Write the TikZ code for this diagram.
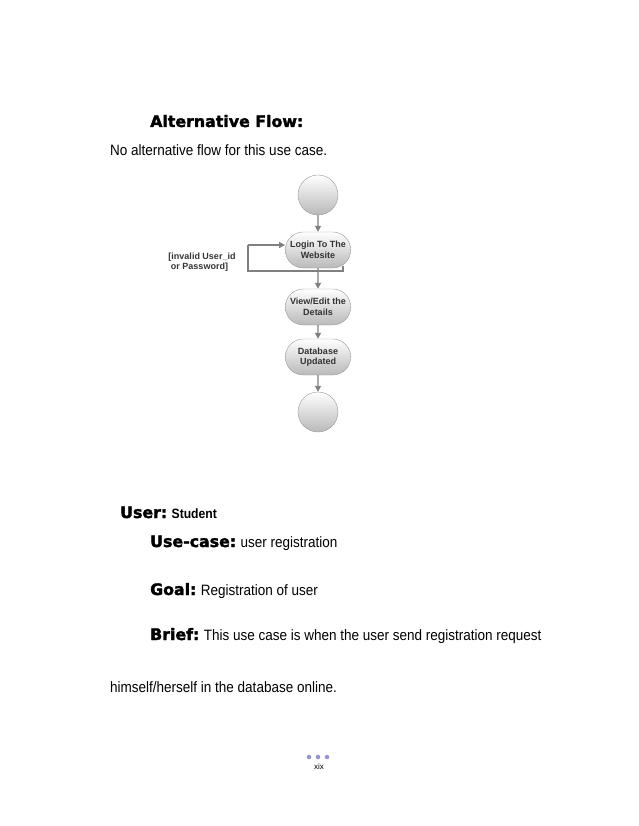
\documentclass[tikz,border=0pt]{standalone}
\usepackage{fontspec}
\setmainfont{Liberation Sans}
\newfontfamily\narrow[FakeStretch=0.9]{Liberation Sans}
\newfontfamily\heavy[BoldFeatures={FakeBold=2}]{DejaVu Sans}
\usetikzlibrary{arrows.meta,shapes.misc}
\begin{document}
\begin{tikzpicture}[x=1pt,y=-1pt,
  act/.style={draw=gray!80,rounded rectangle,minimum width=72pt,minimum height=36pt,top color=white,bottom color=gray!55,font=\bfseries\fontsize{9}{10.5}\selectfont,align=center,text=black!80},
  term/.style={circle,draw=gray!80,minimum size=40pt,top color=white,bottom color=gray!55},
  flow/.style={draw=gray,line width=1.3pt,-{Triangle[length=6pt,width=6pt]}},
  head/.style={anchor=base west,inner sep=0pt,font=\heavy\bfseries\fontsize{15.8}{17}\selectfont},
  body/.style={anchor=base west,inner sep=0pt,font=\narrow\fontsize{15}{17}\selectfont}]
\useasboundingbox (0,0) rectangle (638,826);
\node[head] (h1) at (150,127) {Alternative Flow:};
\node[body] (t1) at (110,156) {No alternative flow for this use case.};
\node[term] (s) at (318,195) {};
\node[act] (l) at (318,250) {Login To The\\Website};
\node[act] (v) at (318,307) {View/Edit the\\Details};
\node[act] (d) at (318,357) {Database\\Updated};
\node[term] (e) at (318,412) {};
\draw[flow] (s) -- (l);
\draw[flow] (l) -- (v);
\draw[flow] (v) -- (d);
\draw[flow] (d) -- (e);
\coordinate (c1) at (343,266);
\coordinate (c2) at (343,271);
\coordinate (c3) at (248,271);
\coordinate (c4) at (248,245);
\draw[gray,line width=1.3pt] (c1) -- (c2) -- (c3) -- (c4);
\draw[flow] (c4) -- (l.west |- c4);
\node[font=\bfseries\fontsize{9}{10.5}\selectfont,align=left,text=black!80] (lab) at (202,262) {[invalid User\_id\\\ or Password]};
\node[head] (u) at (120,518) {User:};
\node[anchor=base west,font=\narrow\bfseries\fontsize{13.5}{15}\selectfont,inner sep=0pt] (u2) at ([xshift=4pt]u.base east) {Student};
\node[head] (uc) at (150,547) {Use-case:};
\node[body] (uc2) at ([xshift=4pt]uc.base east) {user registration};
\node[head] (g) at (150,595) {Goal:};
\node[body] (g2) at ([xshift=4pt]g.base east) {Registration of user};
\node[head] (b) at (150,640) {Brief:};
\node[body] (b2) at ([xshift=4pt]b.base east) {This use case is when the user send registration request};
\node[body] (t2) at (110,692) {himself/herself in the database online.};
\foreach \x [count=\i] in {309,318,327} \node[circle,fill=blue!40!gray!60,inner sep=1.6pt] (dot\i) at (\x,757) {};
\node[font=\fontsize{8}{9}\selectfont] (pg) at (319,767) {xix};
\end{tikzpicture}
\end{document}
